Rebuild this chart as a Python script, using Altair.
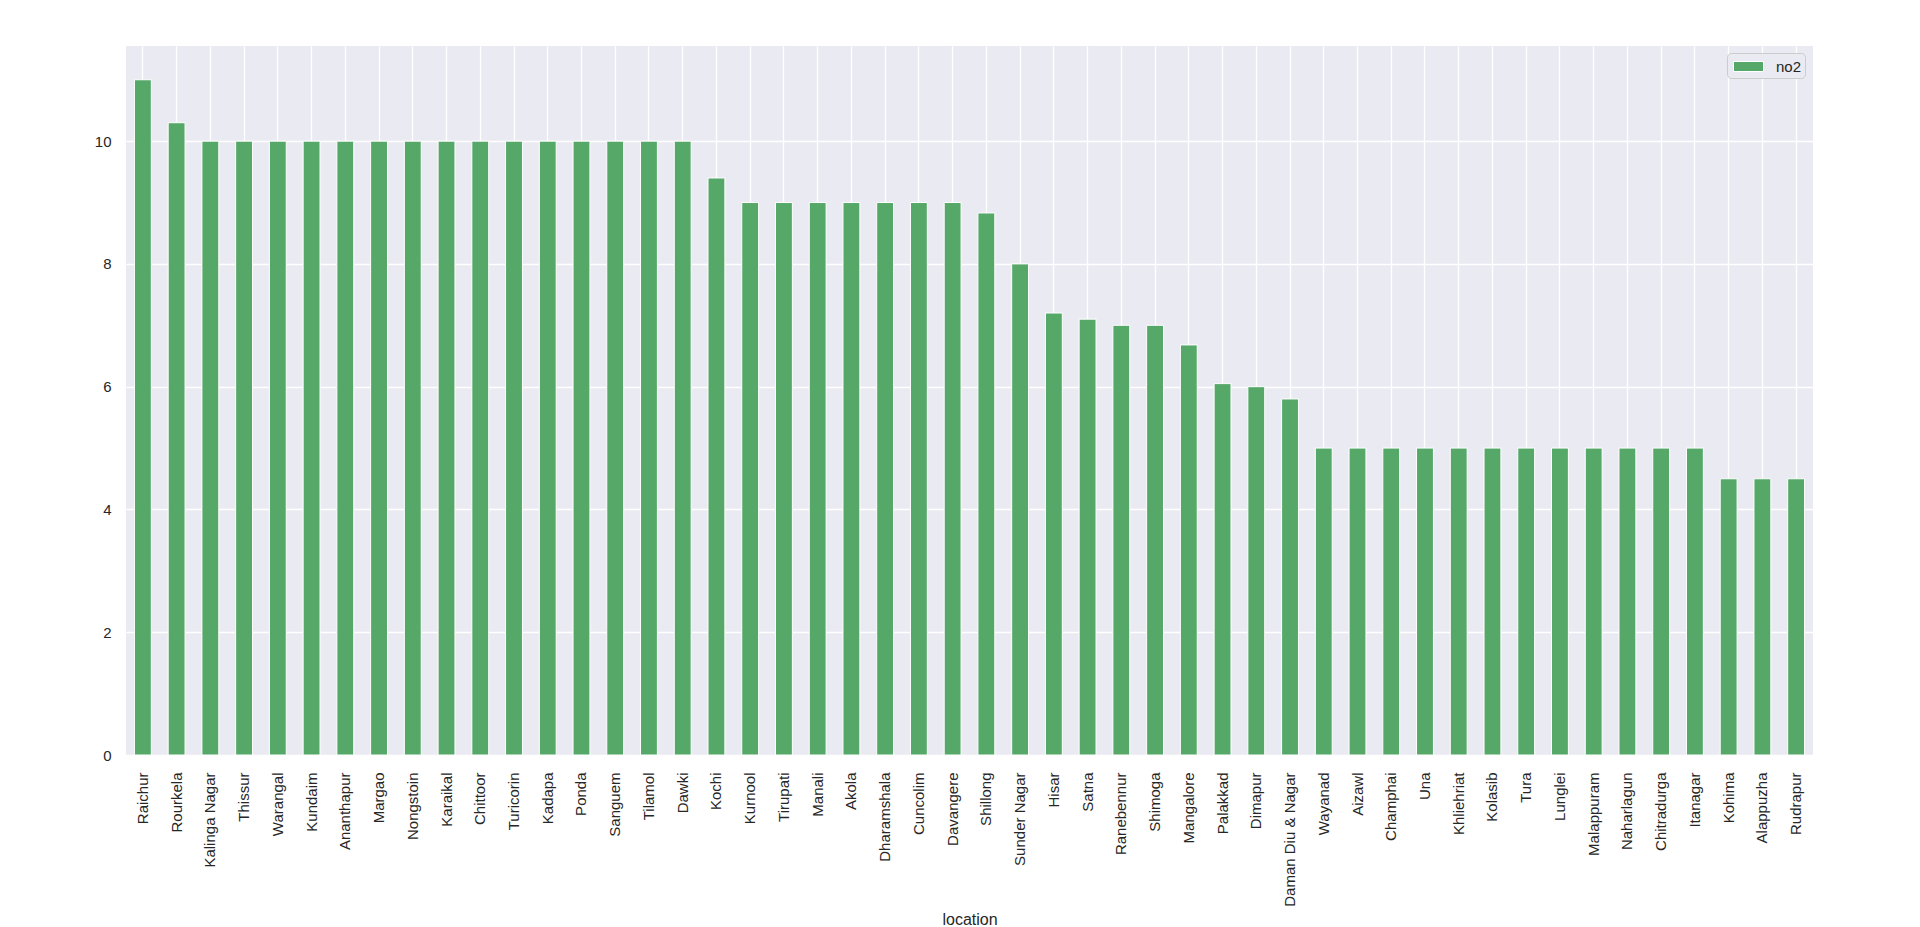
import altair as alt
import pandas as pd

locations = [
    "Raichur", "Rourkela", "Kalinga Nagar", "Thissur", "Warangal", "Kundaim",
    "Ananthapur", "Margao", "Nongstoin", "Karaikal", "Chittoor", "Turicorin",
    "Kadapa", "Ponda", "Sanguem", "Tilamol", "Dawki", "Kochi", "Kurnool",
    "Tirupati", "Manali", "Akola", "Dharamshala", "Cuncolim", "Davangere",
    "Shillong", "Sunder Nagar", "Hisar", "Satna", "Ranebennur", "Shimoga",
    "Mangalore", "Palakkad", "Dimapur", "Daman Diu & Nagar", "Wayanad",
    "Aizawl", "Champhai", "Una", "Khliehriat", "Kolasib", "Tura", "Lunglei",
    "Malappuram", "Naharlagun", "Chitradurga", "Itanagar", "Kohima",
    "Alappuzha", "Rudrapur",
]
no2 = [
    11.0, 10.3, 10, 10, 10, 10,
    10, 10, 10, 10, 10, 10,
    10, 10, 10, 10, 10, 9.4, 9,
    9, 9, 9, 9, 9, 9,
    8.83, 8, 7.2, 7.1, 7, 7,
    6.68, 6.05, 6, 5.8, 5,
    5, 5, 5, 5, 5, 5, 5,
    5, 5, 5, 5, 4.5,
    4.5, 4.5,
]
series_name = "no2"
y_ticks = [0, 2, 4, 6, 8, 10]

df = pd.DataFrame({"location": locations, "value": no2, "series": series_name})

FONT = "Liberation Sans"
TXT = "#262626"

chart = (
    alt.Chart(df)
    .mark_bar(stroke="white", strokeWidth=1)
    .encode(
        x=alt.X(
            "location:N",
            sort=locations,
            scale=alt.Scale(paddingInner=0.5, paddingOuter=0.25),
            axis=alt.Axis(
                title="location",
                labelAngle=270,
                labelFontSize=15,
                labelPadding=17,
                ticks=False,
                tickSize=0,
                domain=False,
                grid=True,
                bandPosition=0.5,
                titleFontSize=16,
                titleFontWeight="normal",
                titleY=169,
                titleBaseline="alphabetic",
            ),
        ),
        y=alt.Y(
            "value:Q",
            scale=alt.Scale(domain=[0, 11.55], nice=False, zero=True),
            axis=alt.Axis(
                title=None,
                values=y_ticks,
                labelFontSize=15,
                labelPadding=15,
                ticks=False,
                tickSize=0,
                domain=False,
                grid=True,
            ),
        ),
        color=alt.Color(
            "series:N",
            scale=alt.Scale(domain=[series_name], range=["#55A868"]),
            legend=alt.Legend(
                title=None,
                orient="none",
                legendX=1601,
                legendY=7,
                fillColor="#EAEAF2",
                strokeColor="#CCCCCC",
                cornerRadius=4,
                padding=3,
                symbolType="M-1.5,-0.5L1.5,-0.5L1.5,0.5L-1.5,0.5Z",
                symbolSize=400,
                symbolOffset=8,
                symbolStrokeColor="white",
                symbolStrokeWidth=1,
                symbolOpacity=1,
                labelOffset=17,
                labelFontSize=15,
                labelColor=TXT,
                labelFont=FONT,
            ),
        ),
    )
    .properties(
        width=1687,
        height=709,
        autosize=alt.AutoSizeParams(type="none"),
        padding={"left": 118, "top": 38, "right": 99, "bottom": 172},
        background="white",
    )
    .configure_view(fill="#EAEAF2", stroke=None)
    .configure_axis(
        gridColor="white",
        gridWidth=1.3,
        labelColor=TXT,
        titleColor=TXT,
        labelFont=FONT,
        titleFont=FONT,
    )
)

chart.save("out.html", embed_options={"renderer": "svg", "actions": False})
